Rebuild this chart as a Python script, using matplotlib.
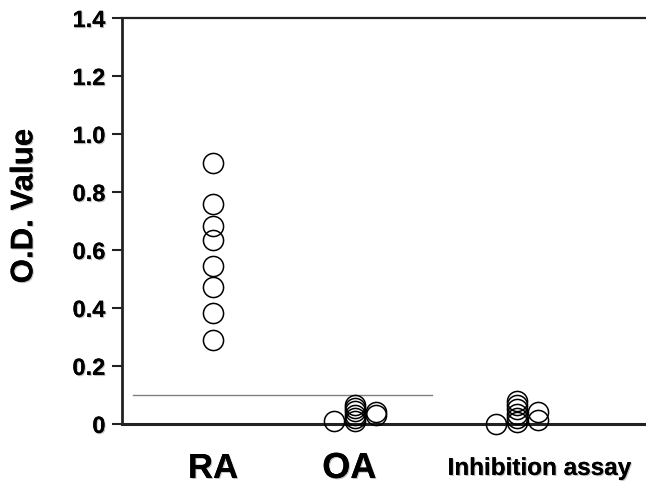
# O.D. values scatter, RA / OA / inhibition assay

import matplotlib
matplotlib.use("Agg")
import matplotlib.pyplot as plt
import matplotlib.patheffects as pe

plt.rcParams['font.family'] = ['Liberation Sans', 'DejaVu Sans']
plt.rcParams['font.weight'] = 'bold'

# data
ra_x = [1.0] * 8
ra_y = [0.90, 0.76, 0.683, 0.634, 0.545, 0.472, 0.383, 0.29]

oa_x = [1.85, 2.0, 2.0, 2.0, 2.0, 2.0, 2.0, 2.15, 2.15]
oa_y = [0.01, 0.065, 0.055, 0.045, 0.03, 0.02, 0.01, 0.04, 0.03]

inh_x = [2.99, 3.14, 3.14, 3.14, 3.14, 3.14, 3.14, 3.29, 3.29]
inh_y = [0.0, 0.08, 0.065, 0.05, 0.035, 0.02, 0.005, 0.04, 0.015]

cutoff = 0.10
cutoff_span = [0.437, 2.54]

group_labels = ['RA', 'OA', 'Inhibition assay']
group_label_x = [1.0, 1.96, 3.30]
group_label_size = [25, 26, 17.5]

yticks = [0, 0.2, 0.4, 0.6, 0.8, 1.0, 1.2, 1.4]
ytick_labels = ['0', '0.2', '0.4', '0.6', '0.8', '1.0', '1.2', '1.4']

shadow = [pe.withSimplePatchShadow(offset=(0.8, -0.8), shadow_rgbFace='#999999', alpha=0.6), pe.Normal()]

fig = plt.figure(figsize=(6.46, 4.89), dpi=100)
ax = fig.add_axes([0.189, 0.131, 0.811, 0.830])

for xs, ys in [(ra_x, ra_y), (oa_x, oa_y), (inh_x, inh_y)]:
    ax.plot(xs, ys, 'o', ms=14.5, mfc='none', mec='black', mew=1.1,
            ls='none', clip_on=False, zorder=3)

ax.plot(cutoff_span, [cutoff, cutoff], color='#808080', lw=1.0, zorder=2)

ax.set_xlim(0.359, 4.05)
ax.set_ylim(0, 1.4)

ax.spines['right'].set_visible(False)
ax.spines['left'].set_linewidth(2.0)
ax.spines['bottom'].set_linewidth(2.2)
ax.spines['top'].set_linewidth(1.6)
for s in ax.spines.values():
    s.set_color('#222222')

ax.set_yticks(yticks)
ax.set_yticklabels(ytick_labels, fontsize=17, fontweight='bold', path_effects=shadow)
ax.tick_params(axis='y', direction='out', length=7, width=1.5, pad=5, color='#222222')

ax.set_xticks(group_label_x)
ax.set_xticklabels(group_labels, fontweight='bold')
ax.tick_params(axis='x', length=0, pad=32)
for lab, fs in zip(ax.get_xticklabels(), group_label_size):
    lab.set_fontsize(fs)
    lab.set_va('center')
    lab.set_path_effects(shadow)

ax.set_ylabel('O.D. Value', fontsize=22.5, fontweight='bold', path_effects=shadow)
ax.yaxis.set_label_coords(-0.158, 0.537)

fig.savefig('out.png', dpi=100)
